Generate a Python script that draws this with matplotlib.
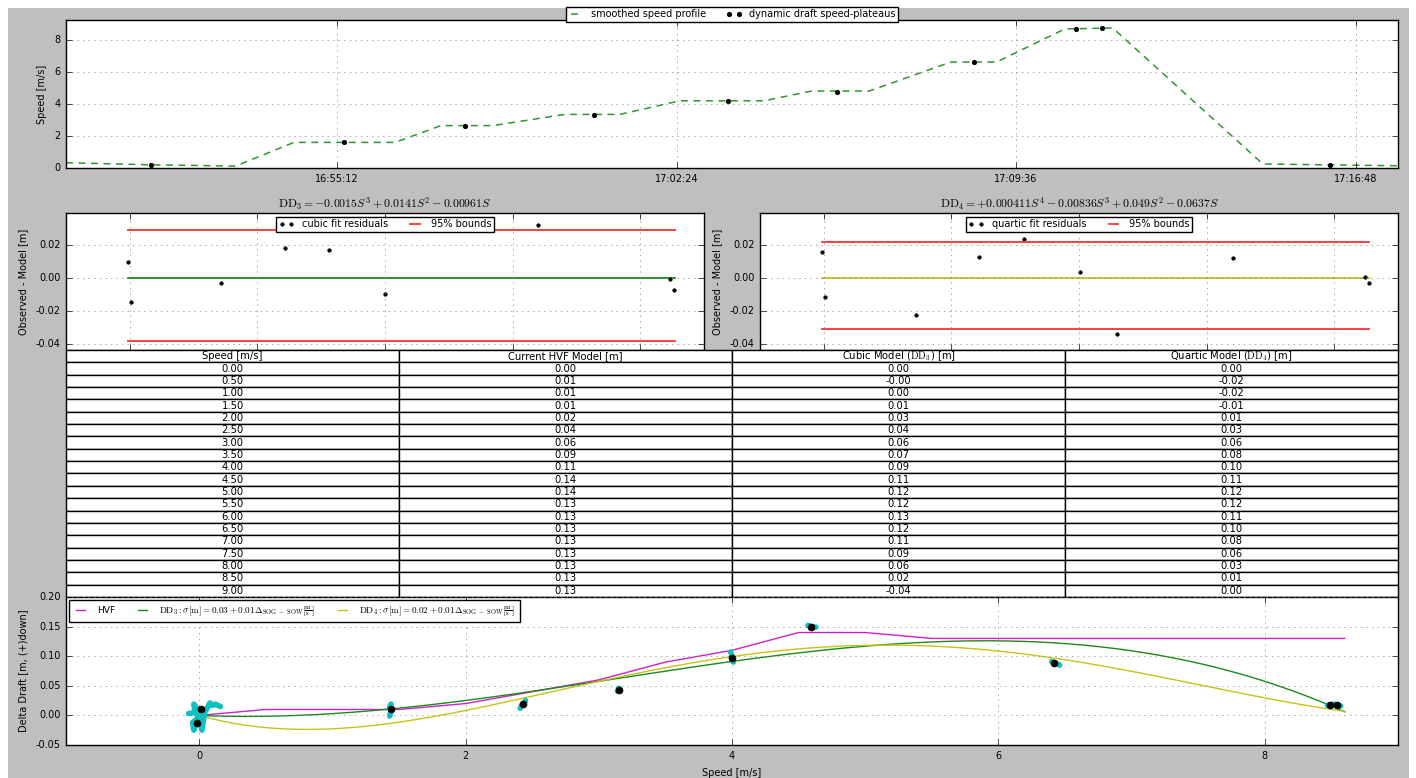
import numpy as np
import matplotlib
matplotlib.use("Agg")
import matplotlib.pyplot as plt
import matplotlib.dates as mdates
from matplotlib.patches import Rectangle
from matplotlib.ticker import MultipleLocator, FormatStrFormatter

plt.style.use("classic")
plt.rcParams.update({
    "font.size": 7.0,
    "axes.labelsize": 7.0,
    "xtick.labelsize": 7.0,
    "ytick.labelsize": 7.0,
    "legend.fontsize": 7.0,
    "axes.titlesize": 8.5,
    "mathtext.fontset": "cm",
    "axes.unicode_minus": True,
})

# ---------------- data ----------------
DAY = "2016-05-12T"

# smoothed speed profile over time
profile_time = ["16:49:27", "16:51:15", "16:53:03", "16:54:17", "16:56:26", "16:57:24",
                "16:58:30", "17:00:02", "17:01:12", "17:02:28", "17:04:15", "17:05:16",
                "17:06:29", "17:08:13", "17:09:11", "17:10:38", "17:11:39", "17:14:50",
                "17:17:42"]
profile_speed = [0.33, 0.20, 0.12, 1.60, 1.60, 2.65, 2.65, 3.35, 3.35, 4.20, 4.20, 4.81,
                 4.81, 6.62, 6.62, 8.69, 8.75, 0.25, 0.14]

# speed plateaus used for the dynamic draft estimate
plateau_time = ["16:51:15", "16:55:21", "16:57:55", "17:00:39", "17:03:30", "17:05:48",
                "17:08:43", "17:10:52", "17:11:25", "17:16:15"]
plateau_sog = [0.17, 1.63, 2.60, 3.30, 4.20, 4.77, 6.60, 8.69, 8.75, 0.17]

time_ticks = ["16:55:12", "17:02:24", "17:09:36", "17:16:48"]
time_limits = ["16:49:27", "17:17:42"]

# polynomial models (highest order first)
cubic_coef = [-0.0015, 0.0141, -0.00961, 0.0]
quartic_coef = [0.000411, -0.00836, 0.049, -0.0637, 0.0]
model_speed_max = 8.6

# residuals (model - observed) per plateau
cubic_res_speed = [-0.03, 0.02, 1.43, 2.43, 3.13, 4.00, 6.40, 8.47, 8.53]
cubic_res = [0.0100, -0.0144, -0.0028, 0.0182, 0.0172, -0.0093, 0.0325, -0.0002, -0.0071]
cubic_bounds = [-0.0382, 0.0293]

quartic_res_speed = [-0.03, 0.02, 1.44, 2.43, 3.14, 4.01, 4.59, 6.42, 8.48, 8.55]
quartic_res = [0.0158, -0.0111, -0.0224, 0.0131, 0.0238, 0.0040, -0.0336, 0.0125, 0.0008, -0.0027]
quartic_bounds = [-0.0309, 0.0218]
bound_span = [-0.03, 8.55]

# model lookup table
table_speed = [0.0, 0.5, 1.0, 1.5, 2.0, 2.5, 3.0, 3.5, 4.0, 4.5, 5.0, 5.5, 6.0, 6.5,
               7.0, 7.5, 8.0, 8.5, 9.0]
table_hvf = [0.00, 0.01, 0.01, 0.01, 0.02, 0.04, 0.06, 0.09, 0.11, 0.14, 0.14, 0.13,
             0.13, 0.13, 0.13, 0.13, 0.13, 0.13, 0.13]
table_cubic = [0.00, -0.0, 0.00, 0.01, 0.03, 0.04, 0.06, 0.07, 0.09, 0.11, 0.12, 0.12,
               0.13, 0.12, 0.11, 0.09, 0.06, 0.02, -0.04]
table_quartic = [0.00, -0.02, -0.02, -0.01, 0.01, 0.03, 0.06, 0.08, 0.10, 0.11, 0.12,
                 0.12, 0.11, 0.10, 0.08, 0.06, 0.03, 0.01, 0.00]
table_headers = ["Speed [m/s]", "Current HVF Model [m]",
                 r"Cubic Model ($\mathrm{DD}_3$) [m]", r"Quartic Model ($\mathrm{DD}_4$) [m]"]

# observed delta draft: raw samples around each plateau and plateau means
raw_speed = [
    [-0.08, -0.03, -0.04, -0.02, -0.01, -0.05, -0.04, -0.02, 0.0, 0.02, 0.03, 0.04,
     0.06, 0.08, 0.10, 0.12, 0.16],
    [1.43, 1.44, 1.43, 1.44],
    [2.41, 2.42, 2.44, 2.45],
    [3.14, 3.15, 3.16],
    [3.99, 4.00, 4.01, 4.01],
    [4.57, 4.60, 4.63],
    [6.40, 6.43, 6.46],
    [8.47, 8.52, 8.57],
]
raw_draft = [
    [0.003, 0.005, 0.019, 0.012, -0.005, -0.012, -0.025, -0.010, 0.0, -0.025, -0.010,
     0.005, 0.012, 0.021, 0.017, 0.019, 0.015],
    [-0.001, 0.008, 0.014, 0.019],
    [0.012, 0.017, 0.021, 0.025],
    [0.041, 0.046, 0.043],
    [0.107, 0.100, 0.093, 0.090],
    [0.152, 0.150, 0.149],
    [0.091, 0.088, 0.085],
    [0.017, 0.019, 0.016],
]
mean_speed = [-0.02, 0.015, 1.44, 2.43, 3.15, 4.00, 4.59, 6.42, 8.49, 8.54]
mean_draft = [-0.0124, 0.011, 0.011, 0.0185, 0.0437, 0.097, 0.150, 0.089, 0.017, 0.017]

# ---------------- figure ----------------
W, H = 1416, 778
fig = plt.figure(figsize=(W / 100, H / 100), dpi=100, facecolor="white")
fig.patches.append(Rectangle((8 / W, 0), (1409 - 8) / W, 1 - 8 / H,
                             transform=fig.transFigure, facecolor="#bfbfbf",
                             edgecolor="none", zorder=-10))


def px_axes(x0, y0, x1, y1, **kw):
    return fig.add_axes([x0 / W, 1 - y1 / H, (x1 - x0) / W, (y1 - y0) / H], **kw)


def tod(t):
    return np.datetime64(DAY + t)


# --- speed over time ---
ax1 = px_axes(66, 20, 1398, 168)
pt = np.array([tod(t) for t in profile_time])
ax1.plot(pt, profile_speed, "--", color="#2e962e", lw=1.1, dashes=(5, 4),
         label="smoothed speed profile")
ax1.plot(np.array([tod(t) for t in plateau_time]), plateau_sog, "k.", ms=6.5,
         label="dynamic draft speed-plateaus")
ax1.set_xlim(tod(time_limits[0]), tod(time_limits[1]))
ax1.set_ylim(0, 9.25)
ax1.set_xticks([tod(t) for t in time_ticks])
ax1.xaxis.set_major_formatter(mdates.DateFormatter("%H:%M:%S"))
ax1.yaxis.set_major_locator(MultipleLocator(2))
ax1.set_ylabel("Speed [m/s]")
ax1.grid(True, color="0.5")
ax1.legend(loc="lower center", bbox_to_anchor=(0.5, 0.988), ncol=2, numpoints=2,
           borderaxespad=0, borderpad=0.25, handlelength=1.6, columnspacing=2.0,
           fancybox=False)

# --- residual panels ---
def residual_panel(x0, x1, speeds, res, bounds, zero_color, label, title):
    ax = px_axes(x0, 213, x1, 350)
    ax.plot(bound_span, [0, 0], color=zero_color, lw=1.2)
    ax.plot(speeds, res, "k.", ms=5, label=label)
    ax.plot(bound_span, [bounds[1], bounds[1]], "-", color="#ff3030", lw=1.3,
            label="95% bounds")
    ax.plot(bound_span, [bounds[0], bounds[0]], "-", color="#ff3030", lw=1.3)
    ax.set_xlim(-1, 9)
    ax.set_ylim(-0.0435, 0.0395)
    ax.xaxis.set_major_locator(MultipleLocator(2))
    ax.yaxis.set_major_locator(MultipleLocator(0.02))
    ax.yaxis.set_major_formatter(FormatStrFormatter("%.2f"))
    ax.tick_params(axis="x", labelbottom=False)
    ax.set_ylabel("Observed - Model [m]")
    ax.grid(True, color="0.5")
    ax.set_title(title, pad=4)
    ax.legend(loc="upper center", ncol=2, numpoints=2, borderaxespad=0.4,
              borderpad=0.25, handlelength=1.6, columnspacing=2.0, fancybox=False)
    return ax


residual_panel(66, 704, cubic_res_speed, cubic_res, cubic_bounds, "g",
               "cubic fit residuals",
               r"$\mathrm{DD}_3 = -0.0015S^3 + 0.0141S^2 - 0.00961S$")
residual_panel(760, 1398, quartic_res_speed, quartic_res, quartic_bounds, "y",
               "quartic fit residuals",
               r"$\mathrm{DD}_4 = +0.000411S^4 - 0.00836S^3 + 0.049S^2 - 0.0637S$")

# --- lookup table ---
axt = px_axes(66, 350, 1398, 597)
axt.axis("off")
cells = [[f"{s:.2f}", f"{h:.2f}", f"{c:.2f}", f"{q:.2f}"]
         for s, h, c, q in zip(table_speed, table_hvf, table_cubic, table_quartic)]
tbl = axt.table(cellText=cells, colLabels=table_headers, cellLoc="center",
                bbox=[0, 0, 1, 1])
tbl.auto_set_font_size(False)
tbl.set_fontsize(7.2)
for cell in tbl.get_celld().values():
    cell.set_edgecolor("black")
    cell.set_linewidth(1.0)

# --- delta draft vs speed ---
ax3 = px_axes(66, 597, 1398, 745)
hvf_x = [s for s in table_speed if s <= model_speed_max] + [model_speed_max]
hvf_y = list(np.interp(hvf_x, table_speed, table_hvf))
s_model = np.linspace(0, model_speed_max, 300)
ax3.plot(hvf_x, hvf_y, "-", color="#cc22cc", lw=1.0, label="HVF")
ax3.plot(s_model, np.polyval(cubic_coef, s_model), "-", color="#1a8a1a", lw=1.0,
         label=r"$\mathrm{DD}_3: \sigma[\mathrm{m}] = 0.03 + 0.01\Delta_{\mathrm{SOG\ -\ SOW}}[\frac{\mathrm{m}}{\mathrm{s}}]$")
ax3.plot(s_model, np.polyval(quartic_coef, s_model), "-", color="#c4c418", lw=1.0,
         label=r"$\mathrm{DD}_4: \sigma[\mathrm{m}] = 0.02 + 0.01\Delta_{\mathrm{SOG\ -\ SOW}}[\frac{\mathrm{m}}{\mathrm{s}}]$")
for xs, ys in zip(raw_speed, raw_draft):
    ax3.plot(xs, ys, "-", color="#10c0c0", lw=4.0, solid_capstyle="round",
             solid_joinstyle="round", zorder=3)
ax3.plot(mean_speed, mean_draft, "ko", ms=5, mec="k", zorder=4)
ax3.set_xlim(-1, 9)
ax3.set_ylim(-0.05, 0.20)
ax3.xaxis.set_major_locator(MultipleLocator(2))
ax3.yaxis.set_major_locator(MultipleLocator(0.05))
ax3.yaxis.set_major_formatter(FormatStrFormatter("%.2f"))
ax3.set_xlabel("Speed [m/s]")
ax3.set_ylabel("Delta Draft [m, (+)down]")
ax3.grid(True, color="0.5")
ax3.legend(loc="upper left", ncol=3, borderaxespad=0.3, borderpad=0.5,
           handlelength=1.6, handletextpad=1.0, columnspacing=2.2, fancybox=False,
           fontsize=6.6)

fig.savefig("out.png", dpi=100, facecolor=fig.get_facecolor())
